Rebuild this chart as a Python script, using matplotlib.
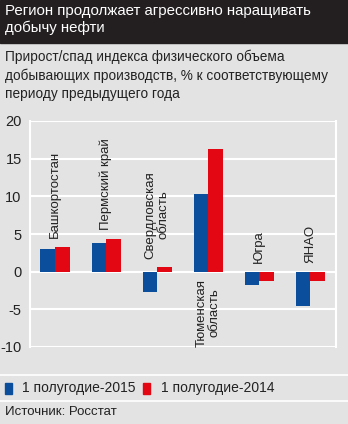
import numpy as np
import matplotlib.pyplot as plt
from matplotlib.patches import Rectangle

plt.rcParams['font.family'] = ['Liberation Sans', 'DejaVu Sans']

regions = ['Башкортостан', 'Пермский край', 'Свердловская\nобласть',
           'Тюменская\nобласть', 'Югра', 'ЯНАО']
h1_2015 = [3.0, 3.8, -2.7, 10.3, -1.8, -4.6]
h1_2014 = [3.3, 4.4, 0.6, 16.3, -1.3, -1.2]
yticks = [20, 15, 10, 5, 0, -5, -10]

blue = '#0b4f9c'
red = '#e30613'
bg = '#e3e3e3'
ink = '#222222'

fig = plt.figure(figsize=(3.48, 4.24), dpi=100, facecolor=bg)

# title band
fig.patches.append(Rectangle((0, 1 - 43 / 424), 1, 43 / 424, transform=fig.transFigure,
                             color='#231f20', zorder=0))
fig.text(5 / 348, 1 - 4 / 424, 'Регион продолжает агрессивно наращивать\nдобычу нефти',
         color='white', fontsize=10.8, va='top', ha='left', linespacing=1.25)
fig.text(5 / 348, 1 - 50 / 424,
         'Прирост/спад индекса физического объема\nдобывающих производств, % к соответствующему\nпериоду предыдущего года',
         color=ink, fontsize=9.8, va='top', ha='left', linespacing=1.35)

ax = fig.add_axes([30 / 348, 1 - 347 / 424, 306 / 348, 226 / 424])
ax.set_facecolor(bg)
x = np.arange(len(regions))
w = 0.285
ax.bar(x - w / 2, h1_2015, w, color=blue, zorder=3)
ax.bar(x + w / 2, h1_2014, w, color=red, zorder=3)

ax.set_xlim(-0.49, 5.5)
ax.set_ylim(-10, 20)
ax.set_yticks(yticks)
ax.set_yticklabels([str(t) for t in yticks], fontsize=10.5, color=ink)
ax.tick_params(axis='y', length=0, pad=6)
ax.set_xticks([])
ax.grid(axis='y', color='white', linewidth=1.5, zorder=1)
for s in ['top', 'bottom']:
    ax.spines[s].set_visible(False)
for s in ['left', 'right']:
    ax.spines[s].set_color('white')
    ax.spines[s].set_linewidth(1.5)

# region names, rotated, above the bars (or under them for Тюменская область)
for i, name in enumerate(regions):
    top = max(0, h1_2015[i], h1_2014[i])
    if i == 3:
        ax.annotate(name, (i, 0), xytext=(0, -5), textcoords='offset points',
                    rotation=90, ha='center', va='top', fontsize=9.5,
                    multialignment='center', color=ink, linespacing=1.1)
    else:
        ax.annotate(name, (i, top), xytext=(0, 6), textcoords='offset points',
                    rotation=90, ha='center', va='bottom', fontsize=9.5,
                    multialignment='center', color=ink, linespacing=1.1)

# separators, legend and source
for yy in [375, 401]:
    fig.add_artist(plt.Line2D([0, 1], [1 - yy / 424, 1 - yy / 424],
                              transform=fig.transFigure, color='white', linewidth=1.2))
fig.patches.append(Rectangle((5 / 348, 1 - 394 / 424), 7 / 348, 11 / 424,
                             transform=fig.transFigure, color=blue))
fig.text(22 / 348, 1 - 388 / 424, '1 полугодие-2015', fontsize=10, va='center',
         color=ink)
fig.patches.append(Rectangle((143 / 348, 1 - 394 / 424), 7 / 348, 11 / 424,
                             transform=fig.transFigure, color=red))
fig.text(161 / 348, 1 - 388 / 424, '1 полугодие-2014', fontsize=10, va='center',
         color=ink)
fig.text(5 / 348, 1 - 412 / 424, 'Источник: Росстат', fontsize=9.5, va='center',
         color=ink)

fig.savefig('out.png', dpi=100, facecolor=bg)
